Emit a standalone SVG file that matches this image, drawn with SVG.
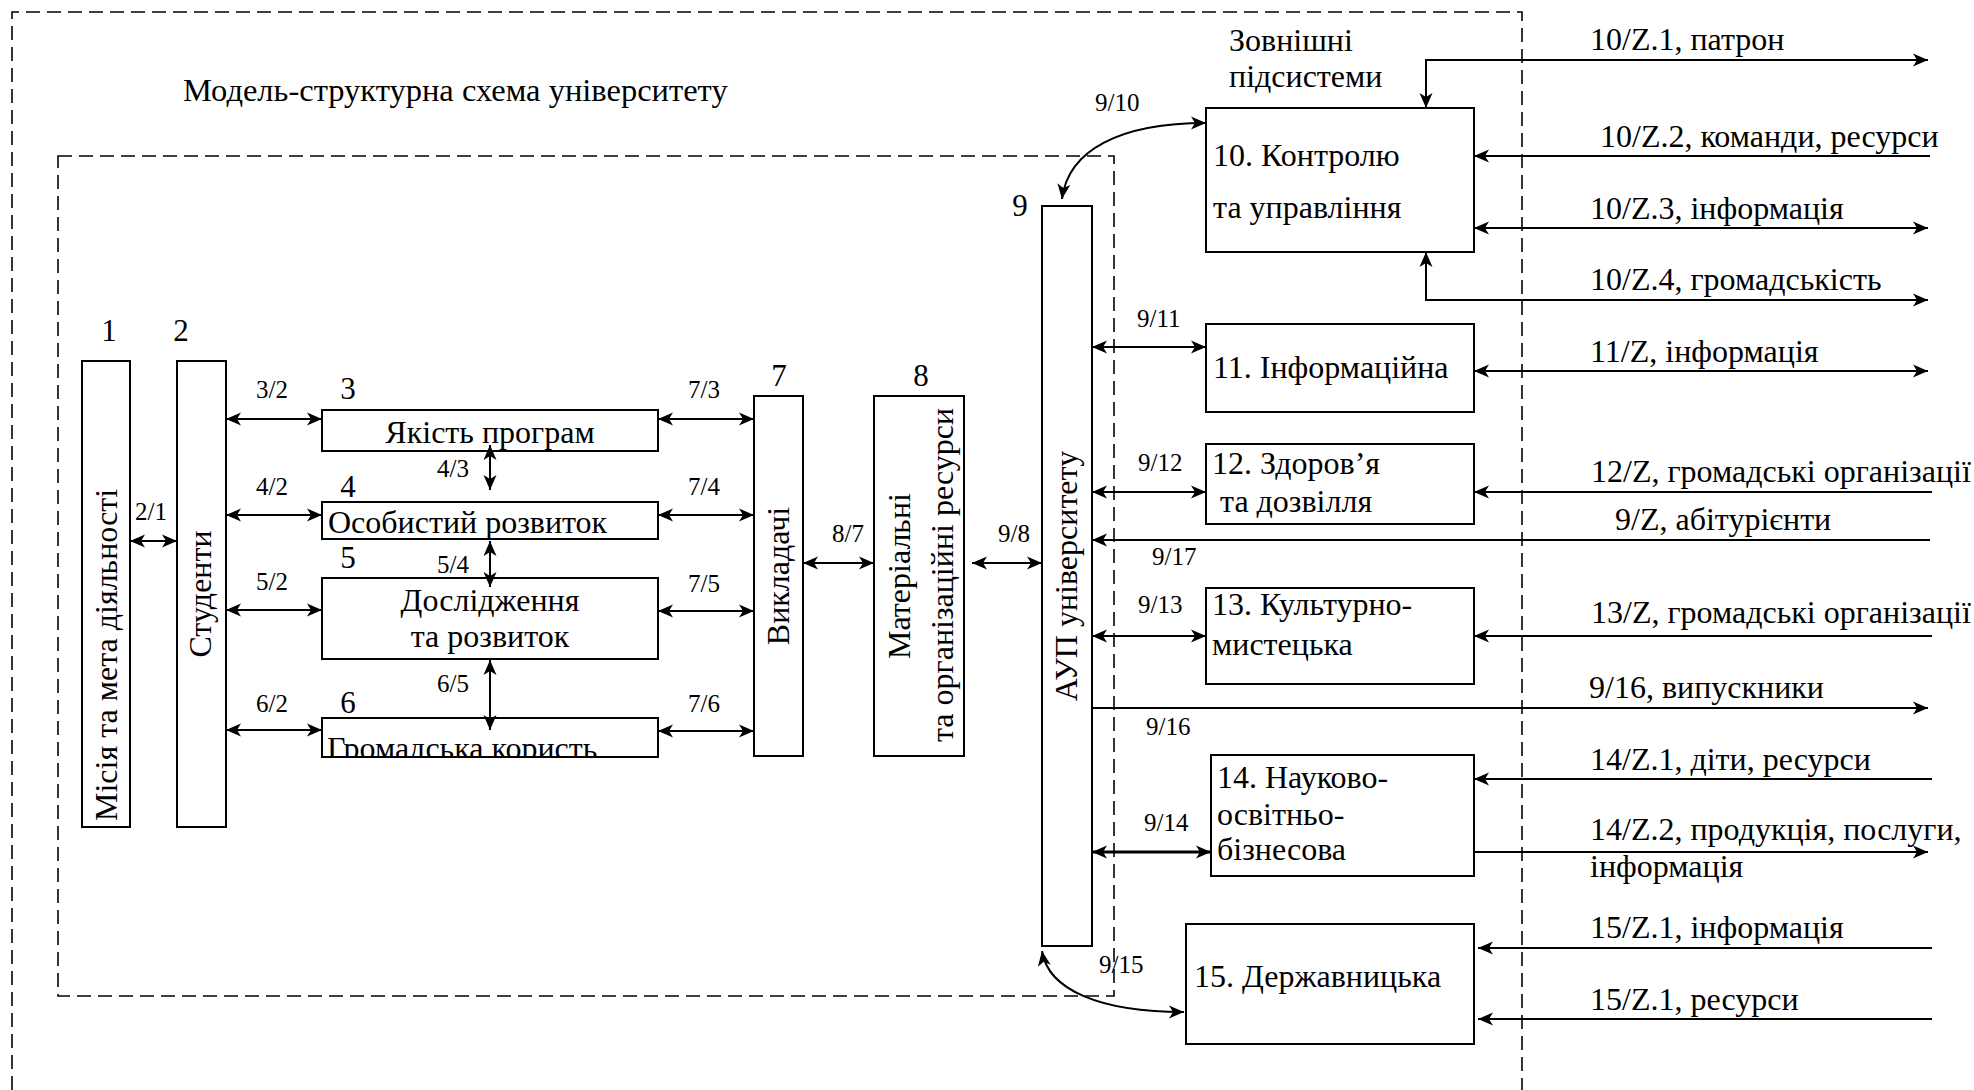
<svg xmlns="http://www.w3.org/2000/svg" width="1974" height="1090" viewBox="0 0 1974 1090">
<defs>
<style>
text { font-family: "Liberation Serif", "Times New Roman", serif; fill: #000; }
.t { font-size: 32px; }
.n { font-size: 31px; text-anchor: middle; }
.l { font-size: 25px; }
.mid { text-anchor: middle; }
.box { fill: #fff; stroke: #000; stroke-width: 2; }
.dash { fill: none; stroke: #000; stroke-width: 1.6; stroke-dasharray: 14 7; }
.c { fill: none; stroke: #000; stroke-width: 2; }
.a2 { marker-start: url(#ah); marker-end: url(#ah); }
.a1 { marker-end: url(#ah); }
</style>
<marker id="ah" markerUnits="userSpaceOnUse" markerWidth="16" markerHeight="14" refX="15" refY="7" orient="auto-start-reverse" viewBox="0 0 16 14">
<path d="M0,0.5 L15,7 L0,13.5 L4,7 Z" fill="#000"/>
</marker>
<clipPath id="clip6"><rect x="323" y="719" width="334" height="37"/></clipPath>
</defs>
<rect width="1974" height="1090" fill="#fff"/>
<g id="frames">
<path class="dash" d="M12,1090 V12 H1522 V1090"/>
<rect class="dash" x="58" y="156" width="1056" height="840"/>
<text class="t" x="183" y="101" style="font-size:32.5px">Модель-структурна схема університету</text>
<text class="t" x="1229" y="51">Зовнішні</text>
<text class="t" x="1229" y="87">підсистеми</text>
</g>
<g id="n1">
<rect class="box" x="82" y="361" width="48" height="466"/>
<text class="t" transform="translate(117,821) rotate(-90)">Місія та мета діяльності</text>
<text class="n" x="109" y="341">1</text>
</g>
<g id="n2">
<rect class="box" x="177" y="361" width="49" height="466"/>
<text class="t mid" transform="translate(211,594) rotate(-90)">Студенти</text>
<text class="n" x="181" y="341">2</text>
</g>
<g id="n3">
<rect class="box" x="322" y="410" width="336" height="41"/>
<text class="t mid" x="490" y="443">Якість програм</text>
<text class="n" x="348" y="399">3</text>
</g>
<g id="n4">
<rect class="box" x="322" y="502" width="336" height="37"/>
<text class="t" x="328" y="533">Особистий розвиток</text>
<text class="n" x="348" y="497">4</text>
</g>
<g id="n5">
<rect class="box" x="322" y="578" width="336" height="81"/>
<text class="t mid" x="490" y="611">Дослідження</text>
<text class="t mid" x="490" y="647">та розвиток</text>
<text class="n" x="348" y="568">5</text>
</g>
<g id="n6">
<rect class="box" x="322" y="718" width="336" height="39"/>
<text class="t" x="327" y="759" clip-path="url(#clip6)">Громадська користь</text>
<text class="n" x="348" y="713">6</text>
</g>
<g id="n7">
<rect class="box" x="754" y="396" width="49" height="360"/>
<text class="t mid" transform="translate(789,576) rotate(-90)">Викладачі</text>
<text class="n" x="779" y="386">7</text>
</g>
<g id="n8">
<rect class="box" x="874" y="396" width="90" height="360"/>
<text class="t mid" transform="translate(910,576) rotate(-90)">Матеріальні</text>
<text class="t mid" transform="translate(953,575) rotate(-90)">та організаційні ресурси</text>
<text class="n" x="921" y="386">8</text>
</g>
<g id="n9">
<rect class="box" x="1042" y="206" width="50" height="740"/>
<text class="t mid" transform="translate(1077,576) rotate(-90)">АУП університету</text>
<text class="n" x="1020" y="216">9</text>
</g>
<g id="n10">
<rect class="box" x="1206" y="108" width="268" height="144"/>
<text class="t" x="1213" y="166">10. Контролю</text>
<text class="t" x="1213" y="218">та управління</text>
</g>
<g id="n11">
<rect class="box" x="1206" y="324" width="268" height="88"/>
<text class="t" x="1213" y="378">11. Інформаційна</text>
</g>
<g id="n12">
<rect class="box" x="1206" y="444" width="268" height="80"/>
<text class="t" x="1212" y="474">12. Здоров’я</text>
<text class="t" x="1220" y="512">та дозвілля</text>
</g>
<g id="n13">
<rect class="box" x="1206" y="588" width="268" height="96"/>
<text class="t" x="1212" y="615">13. Культурно-</text>
<text class="t" x="1212" y="655">мистецька</text>
</g>
<g id="n14">
<rect class="box" x="1211" y="755" width="263" height="121"/>
<text class="t" x="1217" y="788">14. Науково-</text>
<text class="t" x="1217" y="825">освітньо-</text>
<text class="t" x="1217" y="860">бізнесова</text>
</g>
<g id="n15">
<rect class="box" x="1186" y="924" width="288" height="120"/>
<text class="t" x="1194" y="987">15. Державницька</text>
</g>
<g id="connectors">
<path class="c a2" d="M130,541 H177"/>
<path class="c a2" d="M226,419 H322"/>
<path class="c a2" d="M226,515 H322"/>
<path class="c a2" d="M226,610 H322"/>
<path class="c a2" d="M226,730 H322"/>
<path class="c a2" d="M658,419 H754"/>
<path class="c a2" d="M658,515 H754"/>
<path class="c a2" d="M658,611 H754"/>
<path class="c a2" d="M658,731 H754"/>
<path class="c a2" d="M490,445 V490"/>
<path class="c a2" d="M490,541 V587"/>
<path class="c a2" d="M490,660 V730"/>
<path class="c a2" d="M803,563 H874"/>
<path class="c a2" d="M972,563 H1042"/>
<path class="c a2" d="M1062,199 C1068,150 1120,123 1206,123"/>
<path class="c a2" d="M1092,347 H1206"/>
<path class="c a2" d="M1092,492 H1206"/>
<path class="c a2" d="M1092,636 H1206"/>
<path class="c a2" d="M1092,852 H1211" style="stroke-width:3"/>
<path class="c a2" d="M1042,951 C1048,990 1100,1012 1184,1012"/>
<path class="c a1" d="M1930,540 H1092"/>
<path class="c a1" d="M1092,708 H1928"/>
<path class="c a2" d="M1928,60 H1426 V108"/>
<path class="c a1" d="M1930,156 H1474"/>
<path class="c a2" d="M1474,228 H1928"/>
<path class="c a2" d="M1928,300 H1426 V252"/>
<path class="c a2" d="M1474,371 H1928"/>
<path class="c a1" d="M1932,492 H1474"/>
<path class="c a1" d="M1932,636 H1474"/>
<path class="c a1" d="M1932,779 H1474"/>
<path class="c a1" d="M1474,852 H1928"/>
<path class="c a1" d="M1932,948 H1478"/>
<path class="c a1" d="M1932,1019 H1478"/>
<text class="l" x="135" y="520">2/1</text>
<text class="l" x="256" y="398">3/2</text>
<text class="l" x="256" y="495">4/2</text>
<text class="l" x="256" y="590">5/2</text>
<text class="l" x="256" y="712">6/2</text>
<text class="l" x="688" y="398">7/3</text>
<text class="l" x="688" y="495">7/4</text>
<text class="l" x="688" y="592">7/5</text>
<text class="l" x="688" y="712">7/6</text>
<text class="l" x="437" y="477">4/3</text>
<text class="l" x="437" y="573">5/4</text>
<text class="l" x="437" y="692">6/5</text>
<text class="l" x="832" y="542">8/7</text>
<text class="l" x="998" y="542">9/8</text>
<text class="l" x="1095" y="111">9/10</text>
<text class="l" x="1137" y="327">9/11</text>
<text class="l" x="1138" y="471">9/12</text>
<text class="l" x="1152" y="565">9/17</text>
<text class="l" x="1138" y="613">9/13</text>
<text class="l" x="1146" y="735">9/16</text>
<text class="l" x="1144" y="831">9/14</text>
<text class="l" x="1099" y="973">9/15</text>
<text class="t" x="1590" y="50">10/Z.1, патрон</text>
<text class="t" x="1600" y="147">10/Z.2, команди, ресурси</text>
<text class="t" x="1590" y="219">10/Z.3, інформація</text>
<text class="t" x="1590" y="290">10/Z.4, громадськість</text>
<text class="t" x="1590" y="362">11/Z, інформація</text>
<text class="t" x="1591" y="482">12/Z, громадські організації</text>
<text class="t" x="1615" y="530">9/Z, абітурієнти</text>
<text class="t" x="1591" y="623">13/Z, громадські організації</text>
<text class="t" x="1589" y="698">9/16, випускники</text>
<text class="t" x="1590" y="770">14/Z.1, діти, ресурси</text>
<text class="t" x="1590" y="840">14/Z.2, продукція, послуги,</text>
<text class="t" x="1590" y="877">інформація</text>
<text class="t" x="1590" y="938">15/Z.1, інформація</text>
<text class="t" x="1590" y="1010">15/Z.1, ресурси</text>
</g>
</svg>
